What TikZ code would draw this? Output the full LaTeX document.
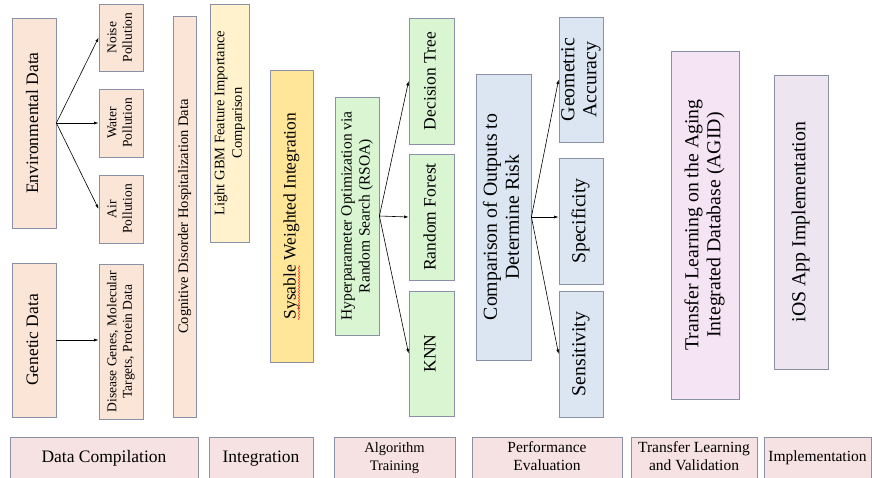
\documentclass[tikz,border=0pt]{standalone}
\usepackage{fontspec}
\setmainfont{Liberation Serif}
\usetikzlibrary{arrows.meta,decorations.pathmorphing,calc}
\definecolor{bordc}{HTML}{8A90A6}
\definecolor{peach}{HTML}{FBE5D6}
\definecolor{lyellow}{HTML}{FFF2CC}
\definecolor{dyellow}{HTML}{FFE699}
\definecolor{lgreen}{HTML}{D9F5D2}
\definecolor{lblue}{HTML}{DCE6F2}
\definecolor{lpink}{HTML}{F5E4F3}
\definecolor{llav}{HTML}{EDE6F0}
\definecolor{lrose}{HTML}{F7E2E3}
\newcommand{\fsX}{\fontsize{19.8}{21.8}\selectfont}
\newcommand{\fsL}{\fontsize{17.5}{21}\selectfont}
\newcommand{\fsB}{\fontsize{15.5}{18}\selectfont}
\newcommand{\fsM}{\fontsize{14.5}{17.5}\selectfont}
\newcommand{\fsS}{\fontsize{13.5}{15.5}\selectfont}
\newcommand{\rtxt}[2]{\rotatebox{90}{#1\begin{tabular}{@{}c@{}}#2\end{tabular}}}
\newcommand{\htxt}[2]{#1\begin{tabular}{@{}c@{}}#2\end{tabular}}
\tikzset{
  box/.style={draw=bordc, line width=0.8pt, inner sep=0pt, align=center},
  arr/.style={-{Latex[length=4.5pt,width=3pt]}, line width=0.6pt, black},
}
\begin{document}
\begin{tikzpicture}[x=1pt,y=-1pt]
\useasboundingbox (0,0) rectangle (872,477);
\clip (0,0) rectangle (872,477);
% data compilation
\node[box, fill=peach, minimum width=44pt, minimum height=210pt] (env) at (34,123) {\rtxt{\fsL}{Environmental Data}};
\node[box, fill=peach, minimum width=44pt, minimum height=67pt] (noise) at (121,37.5) {\rtxt{\fsS}{Noise\\Pollution}};
\node[box, fill=peach, minimum width=44pt, minimum height=68pt] (water) at (121,123) {\rtxt{\fsS}{Water\\Pollution}};
\node[box, fill=peach, minimum width=44pt, minimum height=68pt] (air) at (121,209) {\rtxt{\fsS}{Air\\Pollution}};
\node[box, fill=peach, minimum width=44pt, minimum height=154pt] (gen) at (34,340) {\rtxt{\fsL}{Genetic Data}};
\node[box, fill=peach, minimum width=44pt, minimum height=155pt] (dis) at (121,341.5) {\rtxt{\fsS}{Disease Genes, Molecular\\Targets, Protein Data}};
\node[box, fill=peach, minimum width=23pt, minimum height=401pt] (cog) at (184.5,216.5) {\rtxt{\fsM}{Cognitive Disorder Hospitalization Data}};
% integration
\node[box, fill=lyellow, minimum width=39pt, minimum height=238pt] (lgbm) at (229.5,123) {\rtxt{\fsM}{Light GBM Feature Importance\\Comparison}};
\node[box, fill=dyellow, minimum width=43pt, minimum height=292pt] (sys) at (291.5,216) {\rtxt{\fsL}{Sysable Weighted Integration}};
% algorithm training
\node[box, fill=lgreen, minimum width=44pt, minimum height=238pt] (hyp) at (357,216) {\rtxt{\fsB}{Hyperparameter Optimization via\\Random Search (RSOA)}};
\node[box, fill=lgreen, minimum width=45pt, minimum height=126pt] (dt) at (431.5,81) {\rtxt{\fsL}{Decision Tree}};
\node[box, fill=lgreen, minimum width=45pt, minimum height=126pt] (rf) at (431.5,217) {\rtxt{\fsL}{Random Forest}};
\node[box, fill=lgreen, minimum width=45pt, minimum height=125pt] (knn) at (431.5,353.5) {\rtxt{\fsL}{KNN}};
% performance
\node[box, fill=lblue, minimum width=55pt, minimum height=286pt] (cmp) at (503.5,217) {\rtxt{\fsX}{Comparison of Outputs to\\Determine Risk}};
\node[box, fill=lblue, minimum width=44pt, minimum height=125pt] (geo) at (581,79.5) {\rtxt{\fsX}{Geometric\\Accuracy}};
\node[box, fill=lblue, minimum width=44pt, minimum height=126pt] (spec) at (581,221) {\rtxt{\fsX}{Specificity}};
\node[box, fill=lblue, minimum width=44pt, minimum height=126pt] (sens) at (581,354) {\rtxt{\fsX}{Sensitivity}};
% transfer / implementation
\node[box, fill=lpink, minimum width=68pt, minimum height=348pt] (tl) at (705,225) {\rtxt{\fsX}{Transfer Learning on the Aging\\Integrated Database (AGID)}};
\node[box, fill=llav, minimum width=54pt, minimum height=294pt] (ios) at (801,222) {\rtxt{\fsX}{iOS App Implementation}};
% bottom stage labels
\node[box, fill=lrose, minimum width=188pt, minimum height=42pt] (b1) at (104,458) {\htxt{\fsL}{Data Compilation}};
\node[box, fill=lrose, minimum width=104pt, minimum height=42pt] (b2) at (261,458) {\htxt{\fsL}{Integration}};
\node[box, fill=lrose, minimum width=121pt, minimum height=42pt] (b3) at (394.5,458) {\htxt{\fsM}{Algorithm\\Training}};
\node[box, fill=lrose, minimum width=150pt, minimum height=42pt] (b4) at (547,458) {\htxt{\fsB}{Performance\\Evaluation}};
\node[box, fill=lrose, minimum width=126pt, minimum height=42pt] (b5) at (694,458) {\htxt{\fsB}{Transfer Learning\\and Validation}};
\node[box, fill=lrose, minimum width=107pt, minimum height=42pt] (b6) at (817.5,458) {\htxt{\fsB}{Implementation}};
% spell-check squiggle
\draw[red!80, line width=0.5pt, decorate, decoration={snake, segment length=3pt, amplitude=0.8pt}] ($(sys.center)+(7.5,104)$) -- ($(sys.center)+(7.5,49)$);
% connectors
\draw[arr] (env.east) -- (noise.west);
\draw[arr] (env.east) -- (water.west);
\draw[arr] (env.east) -- (air.west);
\draw[arr] (gen.east) -- (gen.east -| dis.west);
\draw[arr] (hyp.east) -- (dt.west);
\draw[arr] (hyp.east) -- (rf.west);
\draw[arr] (hyp.east) -- (knn.west);
\draw[arr] (cmp.east) -- (geo.west);
\draw[arr] (cmp.east) -- (cmp.east -| spec.west);
\draw[arr] (cmp.east) -- (sens.west);
\end{tikzpicture}
\end{document}
